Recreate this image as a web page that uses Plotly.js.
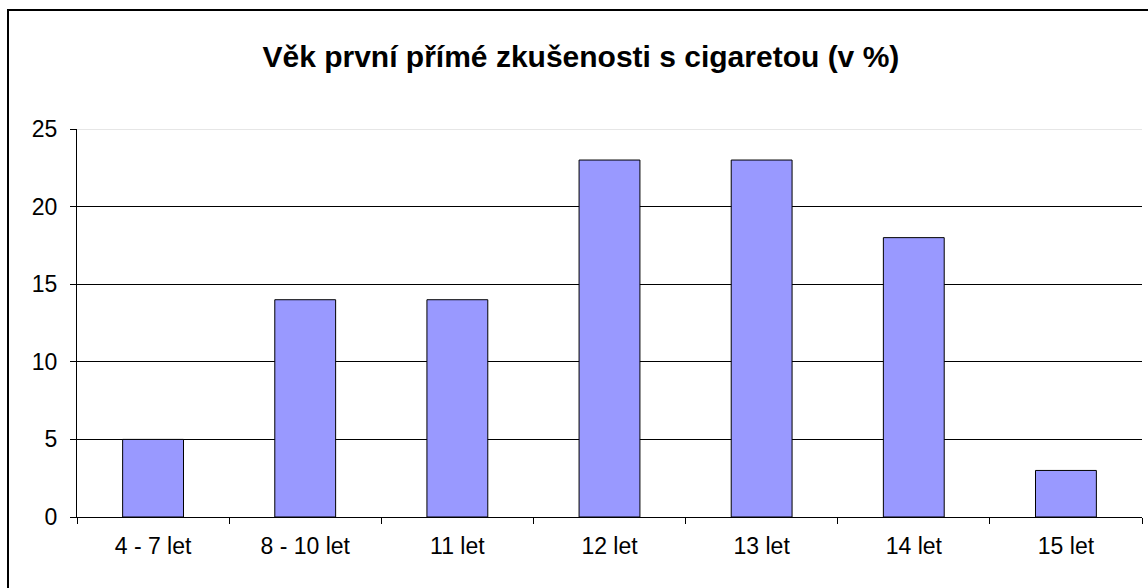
<!DOCTYPE html>
<html>
<head>
<meta charset="utf-8">
<script src="https://cdn.plot.ly/plotly-3.0.1.min.js"></script>
<style>html,body{margin:0;padding:0;background:#fff;}#chart{width:1148px;height:588px;}</style>
</head>
<body>
<div id="chart"></div>
<script>
var categories = ["4 - 7 let", "8 - 10 let", "11 let", "12 let", "13 let", "14 let", "15 let"];
var values = [5, 14, 14, 23, 23, 18, 3];
var yTicks = [0, 5, 10, 15, 20, 25];
var titleText = "Věk první přímé zkušenosti s cigaretou (v %)";

var L = 77, R = 6, T = 129, B = 71, W = 1148, H = 588;
var pw = W - L - R, ph = H - T - B;

var trace = {
  type: "bar",
  x: categories,
  y: values,
  width: 0.4,
  marker: {color: "#9999FF", line: {color: "#000000", width: 1}},
  hoverinfo: "none"
};

var layout = {
  width: W, height: H,
  margin: {l: L, r: R, t: T, b: B, pad: 0},
  paper_bgcolor: "#ffffff",
  plot_bgcolor: "#ffffff",
  showlegend: false,
  font: {family: "Liberation Sans, Arial, sans-serif", color: "#000000", size: 23},
  title: {
    text: "<b>" + titleText + "</b>",
    font: {family: "Liberation Sans, Arial, sans-serif", size: 30, color: "#000"},
    x: 0.506, xanchor: "center", y: 1 - 56 / H, yanchor: "middle"
  },
  xaxis: {
    type: "category",
    showline: true, linecolor: "#000", linewidth: 1,
    ticks: "outside", tickson: "boundaries", ticklen: 6, tickcolor: "#000", tickwidth: 1,
    showgrid: false, zeroline: false,
    tickfont: {size: 23},
    ticklabelstandoff: 8
  },
  yaxis: {
    range: [0, 25],
    tickvals: yTicks,
    showline: true, linecolor: "#000", linewidth: 1,
    ticks: "outside", ticklen: 6, tickcolor: "#000", tickwidth: 1,
    showgrid: true, gridcolor: "#000", gridwidth: 1,
    zeroline: false,
    tickfont: {size: 23},
    ticklabelstandoff: 8
  },
  shapes: [
    {type: "line", xref: "paper", yref: "y", x0: 0, x1: 1, y0: 25, y1: 25,
     line: {color: "#e6e6e6", width: 2}, layer: "between"},
    {type: "rect", xref: "paper", yref: "paper",
     x0: (8 - L) / pw, x1: (W + 4 - L) / pw,
     y0: (ph + T - (H + 4)) / ph, y1: (ph + T - 10) / ph,
     line: {color: "#000", width: 2}, fillcolor: "rgba(0,0,0,0)", layer: "above"}
  ]
};

Plotly.newPlot("chart", [trace], layout, {staticPlot: true, displayModeBar: false});
</script>
</body>
</html>
